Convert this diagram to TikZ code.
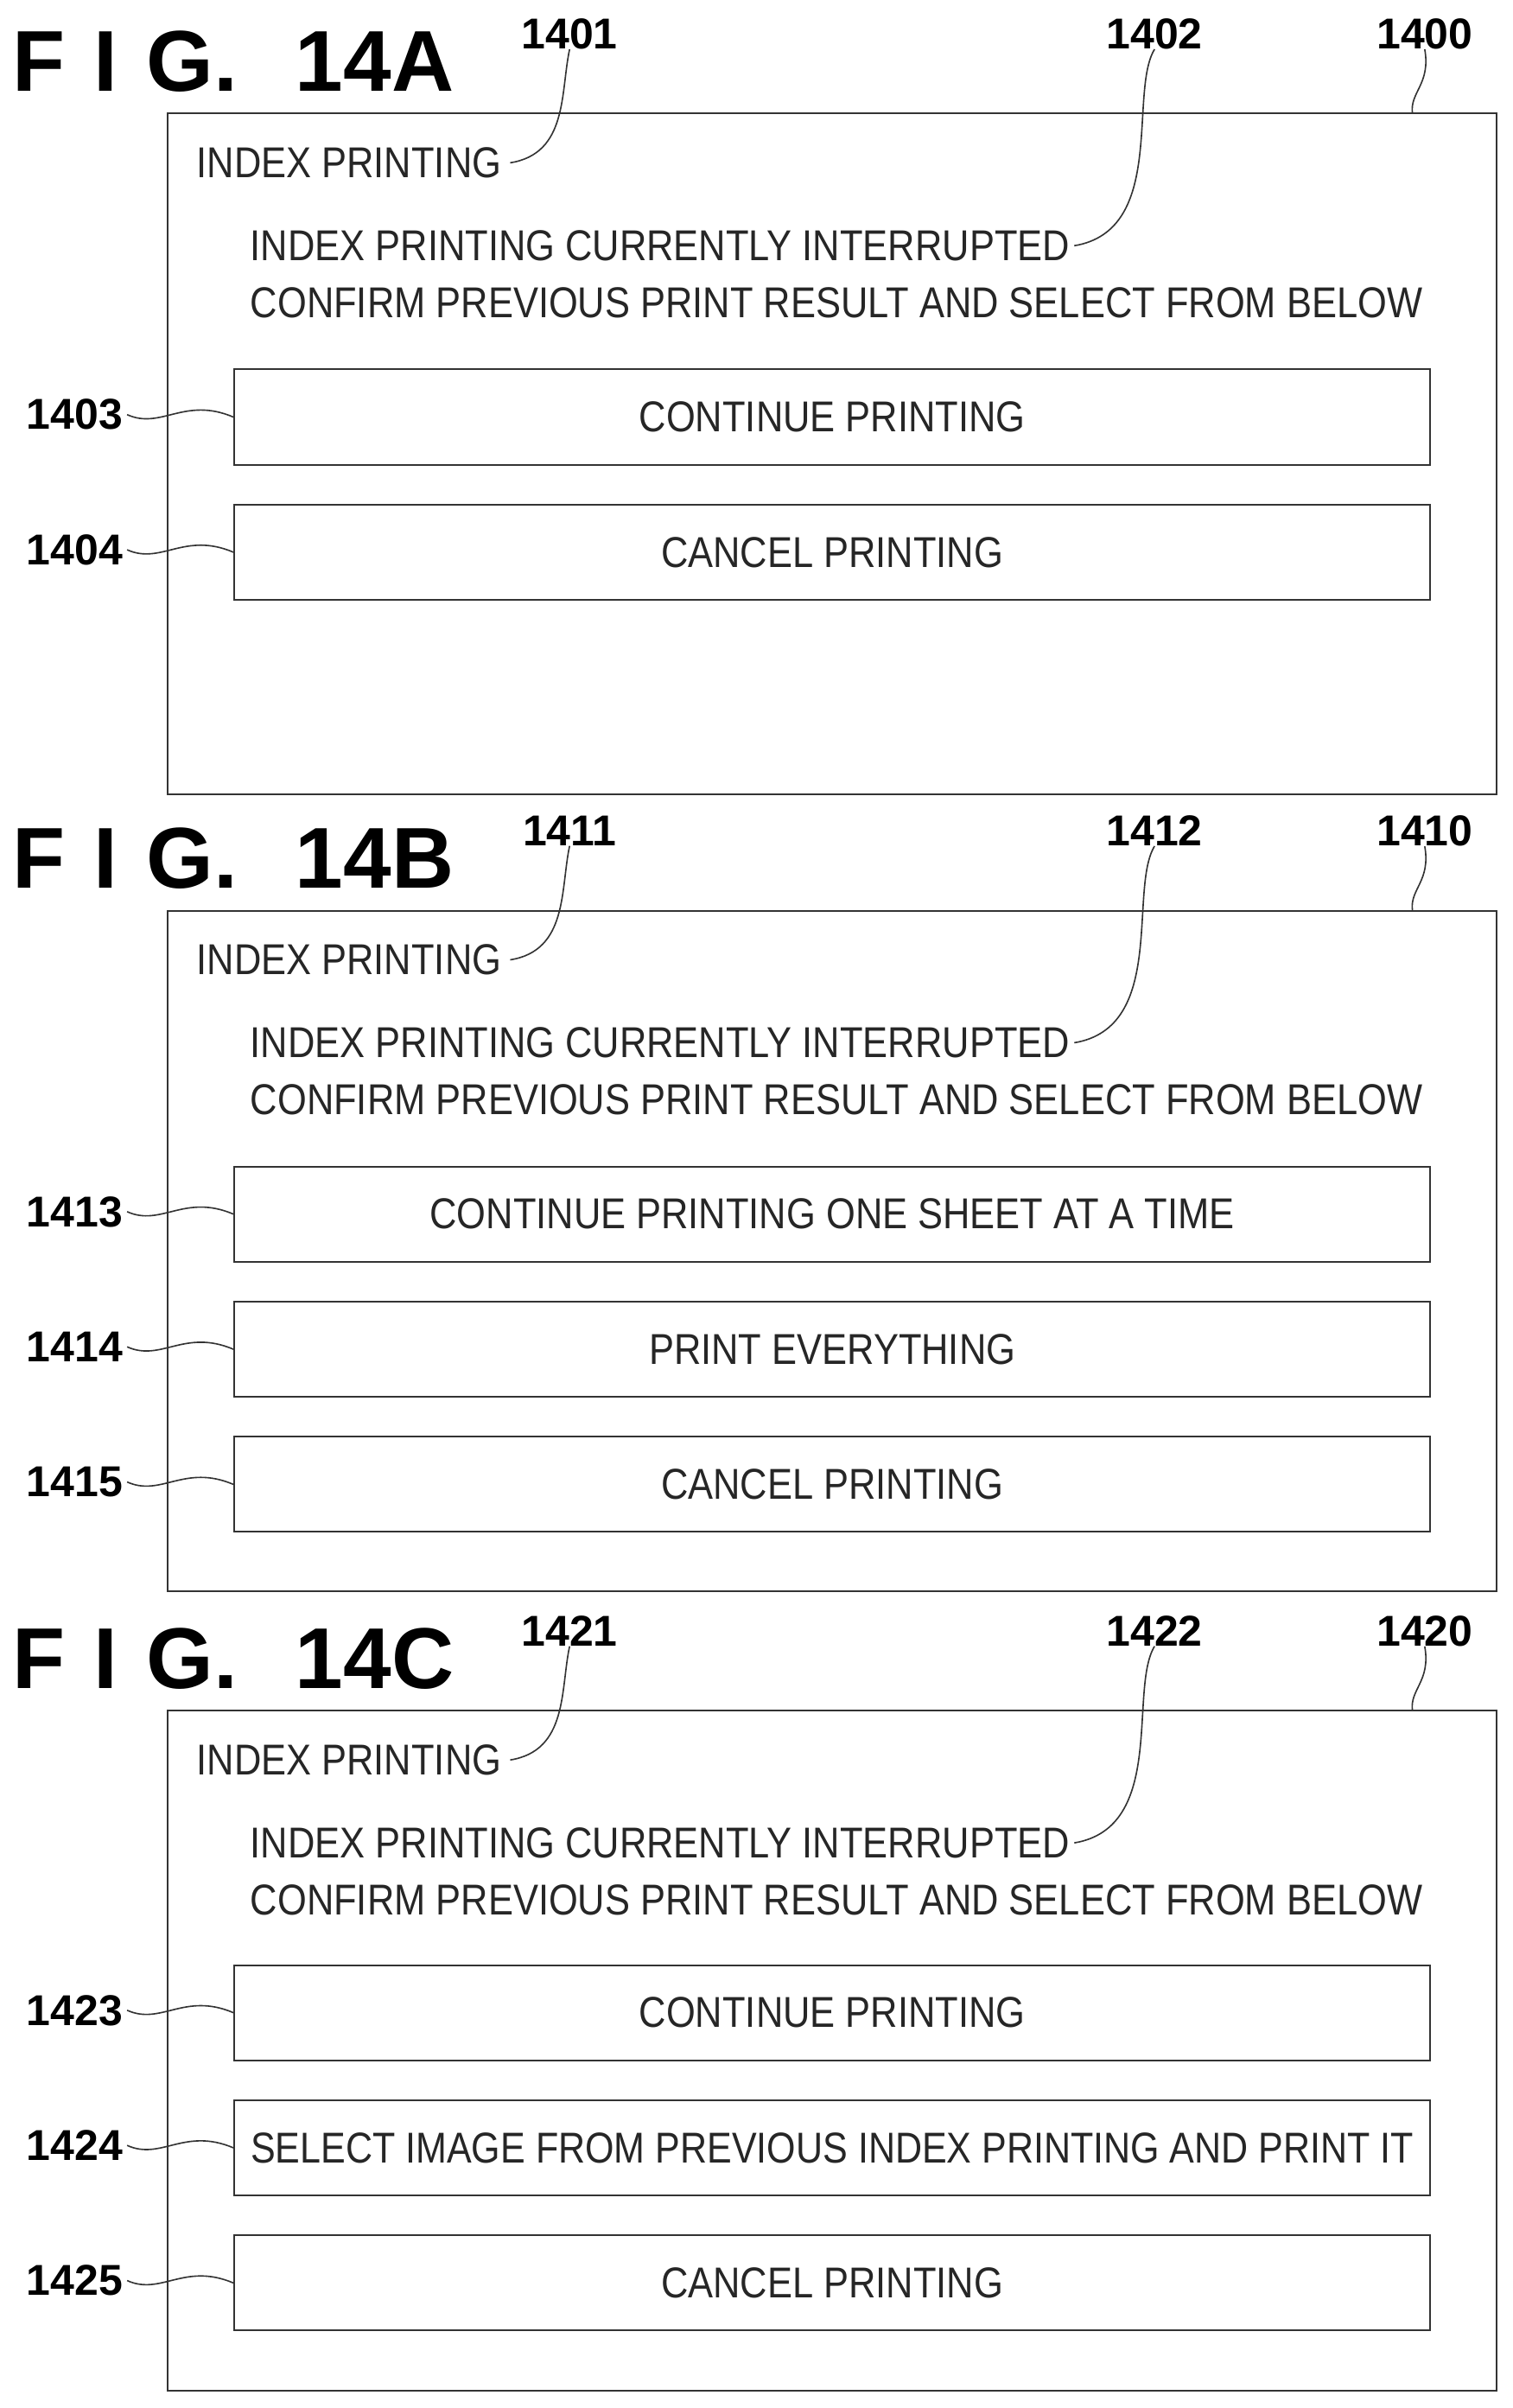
\documentclass[tikz,border=0pt]{standalone}
\usepackage{fontspec}
\setmainfont{Liberation Sans}
\newcommand\nt[1]{\scalebox{0.87}[1]{#1}}
\tikzset{
  box/.style={draw=black!80,line width=1.6pt},
  txt/.style={font=\fontsize{40}{44}\selectfont,inner sep=0pt,text=black!85},
  lab/.style={font=\bfseries\fontsize{40}{44}\selectfont,inner sep=0pt},
  ttl/.style={font=\bfseries\fontsize{80}{84}\selectfont,inner sep=0pt,anchor=west},
  lead/.style={line width=1.3pt,black!80}
}
\begin{document}
\begin{tikzpicture}[x=0.05cm,y=-0.05cm]
\useasboundingbox (0,0) rectangle (985,1568);
\newcommand\panelhead[6]{%
\begin{scope}[shift={(0,#1)}]
\node[ttl] (#6t) at (8,40) {F\,\,I\,\,G.\,\,\,\,#2};
\draw[box] (109,74) rectangle (975,517);
\node[txt,anchor=west] (#6a) at (128,106) {\nt{INDEX PRINTING}};
\node[txt,anchor=west] (#6b) at (163,160) {\nt{INDEX PRINTING CURRENTLY INTERRUPTED}};
\node[txt,anchor=west] (#6c) at (163,197) {\nt{CONFIRM PREVIOUS PRINT RESULT AND SELECT FROM BELOW}};
\node[lab] (#6l1) at (371,22) {#3};
\node[lab] (#6l2) at (752,22) {#4};
\node[lab] (#6l0) at (928,22) {#5};
\coordinate (#6e0) at (920,74);
\draw[lead] (#6l1.south) .. controls (365,60) and (370,100) .. ([xshift=8]#6a.east);
\draw[lead] (#6l2.south) .. controls (735,60) and (760,150) .. ([xshift=4]#6b.east);
\draw[lead] (#6l0.south) .. controls (932,55) and (918,60) .. (#6e0);
\end{scope}}
\newcommand\button[5]{%
\begin{scope}[shift={(0,#1)}]
\node[box,minimum width=779*0.05cm,minimum height=62*0.05cm,anchor=north west,inner sep=0pt,txt] (#5) at (152,#2) {\nt{#3}};
\node[lab,anchor=east] (#5l) at (80,#2+30) {#4};
\draw[lead] ([xshift=4]#5l.east) .. controls (105,#2+40) and (120,#2+18) .. (#5.west);
\end{scope}}
\panelhead{0}{14A}{1401}{1402}{1400}{A}
\button{0}{240}{CONTINUE PRINTING}{1403}{A1}
\button{0}{328}{CANCEL PRINTING}{1404}{A2}
\panelhead{519}{14B}{1411}{1412}{1410}{B}
\button{519}{240}{CONTINUE PRINTING ONE SHEET AT A TIME}{1413}{B1}
\button{519}{328}{PRINT EVERYTHING}{1414}{B2}
\button{519}{416}{CANCEL PRINTING}{1415}{B3}
\panelhead{1040}{14C}{1421}{1422}{1420}{C}
\button{1040}{239}{CONTINUE PRINTING}{1423}{C1}
\button{1040}{327}{\scalebox{0.99}[1]{SELECT IMAGE FROM PREVIOUS INDEX PRINTING AND PRINT IT}}{1424}{C2}
\button{1040}{415}{CANCEL PRINTING}{1425}{C3}
\end{tikzpicture}
\end{document}
